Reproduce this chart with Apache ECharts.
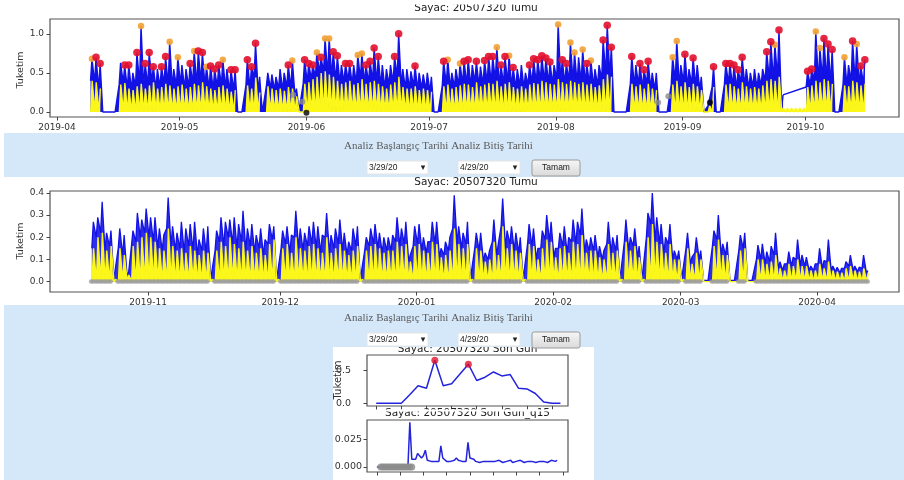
<!DOCTYPE html>
<html><head><meta charset="utf-8">
<script src="https://cdn.jsdelivr.net/npm/echarts@6.0.0/dist/echarts.min.js"></script>
<style>html,body{margin:0;padding:0;background:#fff;}#main{width:904px;height:480px;}</style>
</head><body><div id="main"></div>
<script>
const DAY = 86400000;

// ---------- top chart: daily peaks from 2019-04-09 ----------
const topStart = '2019-04-09';
const topTicks = ['2019-04','2019-05','2019-06','2019-07','2019-08','2019-09','2019-10'];
const topYTicks = [0, 0.5, 1.0];
const topYLabels = ['0.0','0.5','1.0'];
const topBlue = [
 0.68,0.70,0.62,0,0,0,0,0.63,0.60,0.60,0.50,0.76,1.10,0.62,0.76,0.58,0.55,0.58,0.71,0.90,0.55,0.70,
 0.60,0.55,0.62,0.78,0.78,0.76,0.58,0.59,0.55,0.60,0.67,0.55,0.54,0.54,0,0,0.67,0.58,0.88,0.45,0,0.50,0.48,0.45,0.55,0.50,0.60,0.66,0.30,0.02,0.67,
 0.62,0.60,0.76,0.70,0.94,0.94,0.77,0.72,0.60,0.62,0.62,0.60,0.73,0.75,0.60,0.65,0.82,0.71,0.60,0.55,0.60,0.71,1.00,0.55,0.55,0.52,0.59,0.50,0.48,0.50,
 0.45,0,0,0.65,0.67,0.50,0.55,0.62,0.65,0.67,0.60,0.65,0.58,0.66,0.71,0.71,0.83,0.60,0.71,0.72,0.57,0.55,0.60,0.50,0.60,0.68,0.67,0.72,0.69,0.64,0.60,
 1.12,0.67,0.62,0.89,0.76,0.70,0.80,0.62,0.66,0.55,0.60,0.92,1.11,0.83,0,0,0,0,0.71,0.60,0.62,0.54,0.65,0.50,0.50,0,0,0,0.70,0.91,0.60,
 0.74,0.55,0.69,0.60,0.45,0,0.10,0.58,0,0,0.62,0.62,0.60,0.54,0.70,0.55,0.50,0.55,0.50,0.55,0.77,0.90,0.86,1.05,0.22,null,null,null,null,null,
 0.52,0.55,1.03,0.82,0.94,0.87,0.80,0,0,0.70,0.60,0.91,0.87,0.59,0.67
];
const topYellow = [
 0.40,0.38,0.30,null,null,null,null,0.35,0.37,0.30,0.28,0.33,0.36,0.30,0.34,0.38,0.30,0.32,0.36,0.34,0.30,0.33,
 0.35,0.30,0.32,0.36,0.34,0.38,0.33,0.30,0.28,0.32,0.34,0.30,0.26,0.28,null,null,0.34,0.30,0.44,0.25,null,0.33,0.30,0.28,0.30,0.27,0.32,0.30,0.20,0.02,0.36,
 0.38,0.42,0.45,0.50,0.52,0.48,0.45,0.40,0.36,0.38,0.40,0.35,0.37,0.42,0.36,0.38,0.40,0.36,0.33,0.30,0.35,0.38,0.45,0.32,0.30,0.30,0.33,0.28,0.30,0.28,
 0.26,null,null,0.33,0.35,0.30,0.32,0.34,0.36,0.35,0.32,0.38,0.33,0.35,0.37,0.36,0.40,0.33,0.36,0.38,0.32,0.30,0.33,0.30,0.35,0.37,0.36,0.40,0.38,0.36,0.35,
 0.42,0.38,0.36,0.40,0.38,0.36,0.38,0.35,0.36,0.32,0.34,0.42,0.48,0.45,null,null,null,null,0.36,0.33,0.35,0.30,0.36,0.30,0.28,null,null,null,0.35,0.40,0.33,
 0.38,0.32,0.36,0.33,0.28,0.02,0.08,0.32,null,null,0.35,0.36,0.33,0.30,0.38,0.33,0.30,0.32,0.30,0.34,0.40,0.42,0.40,0.45,0.05,0.05,0.05,0.05,0.05,0.05,
 0.32,0.34,0.40,0.38,0.42,0.40,0.36,null,null,0.34,0.33,0.40,0.38,0.34,0.36
];
// marker per day: r = red, o = orange, . = none
const topMarks = [
 'orr....' + '.rr.rorrr.rro.o',
 '..rorrorrro.rr' + '..' + 'rrr.' + '.' + '.....ro.' + '.' + 'r',
 'rroroorr' + '.rr.' + 'oorrrr' + '...' + 'rr' + '...' + 'r' + '...',
 '...' + 'ro' + '..' + 'orr' + '.' + 'r' + '.' + 'rrr' + 'o' + 'rr' + 'o' + 'r' + '...' + 'rrrrrr' + '.',
 'orroo.oro..rrr' + '....' + 'r.rrr..' + '...' + 'oo.',
 'r.r....r..' + 'rrrrr.....rror' + '......',
 'rroorrr' + '..' + 'o.rorr'
].join('');
const topGrayTimes = ['2019-05-28T18:00','2019-05-31T00:00','2019-08-26T00:00','2019-08-28T12:00'];
const topGrayVals = [0.22, 0.13, 0.12, 0.20];
const topBlackTimes = ['2019-06-01T00:00','2019-09-07T16:00'];
const topBlackVals = [-0.01, 0.12];

// ---------- middle chart: daily peaks from 2019-10-19 ----------
const midStart = '2019-10-19';
const midTicks = ['2019-11','2019-12','2020-01','2020-02','2020-03','2020-04'];
const midYTicks = [0, 0.1, 0.2, 0.3, 0.4];
const midYLabels = ['0.0','0.1','0.2','0.3','0.4'];
const midBlue = [
 0.27,0.29,0.36,0.22,0.23,0.01,0.24,0.21,0.04,0.23,0.31,0.28,0.33,
 0.29,0.29,0.24,0.21,0.38,0.25,0.22,0.27,0.24,0.26,0.27,0.19,0.24,0.25,0.01,0.23,0.29,0.27,0.28,0.29,0.26,0.32,0.24,0.26,0.21,0.24,0.19,0.26,0.25,0.01,
 0.23,0.25,0.21,0.32,0.24,0.22,0.25,0.27,0.25,0.21,0.31,0.21,0.24,0.28,0.22,0.18,0.24,0.25,0.01,0.20,0.24,0.26,0.22,0.20,0.20,0.21,0.29,0.24,0.27,0.12,0.25,
 0.26,0.20,0.18,0.27,0.27,0.15,0.18,0.20,0.39,0.25,0.22,0.27,0.01,0.22,0.22,0.13,0.14,0.28,0.17,0.375,0.23,0.25,0.22,0.20,0.01,0.26,0.24,0.15,0.23,0.30,0.27,
 0.15,0.22,0.25,0.20,0.28,0.27,0.33,0.19,0.20,0.21,0.16,0.14,0.27,0.20,0.21,0.01,0.28,0.20,0.24,0.16,0.01,0.31,0.40,0.29,0.26,0.20,0.26,0.14,0.14,
 0.01,0.22,0.11,0.20,0.14,0.005,0.005,0.23,0.30,0.17,0.18,0.005,0.005,0.21,0.22,0.005,0.005,0.165,0.17,0.135,0.16,0.22,0.09,0.08,0.135,0.11,0.19,0.12,0.11,0.07,0.08,
 0.15,0.095,0.19,0.07,0.065,0.06,0.09,0.12,0.07,0.065,0.12,0.05
];
const midYellow = [
 0.15,0.20,0.22,0.14,0.16,0.01,0.15,0.12,0.03,0.16,0.18,0.20,0.22,
 0.20,0.18,0.15,0.14,0.24,0.16,0.14,0.15,0.13,0.16,0.14,0.12,0.14,0.13,0.01,0.14,0.18,0.16,0.20,0.17,0.15,0.18,0.14,0.16,0.13,0.15,0.12,0.17,0.19,0.01,
 0.15,0.17,0.13,0.20,0.15,0.14,0.16,0.17,0.15,0.13,0.20,0.13,0.15,0.17,0.14,0.12,0.14,0.16,0.01,0.14,0.16,0.17,0.15,0.13,0.14,0.14,0.18,0.16,0.17,0.09,0.16,
 0.17,0.14,0.13,0.18,0.17,0.11,0.12,0.14,0.24,0.17,0.15,0.17,0.01,0.15,0.14,0.09,0.10,0.18,0.12,0.25,0.15,0.17,0.14,0.13,0.01,0.17,0.16,0.10,0.15,0.19,0.18,
 0.11,0.15,0.16,0.13,0.18,0.17,0.21,0.13,0.14,0.14,0.11,0.10,0.17,0.13,0.14,0.01,0.18,0.14,0.16,0.11,0.01,0.20,0.26,0.18,0.17,0.13,0.17,0.10,0.10,
 0.01,0.15,0.08,0.13,0.10,0.005,0.005,0.16,0.19,0.12,0.12,0.005,0.005,0.14,0.15,0.005,0.005,0.10,0.10,0.08,0.09,0.12,0.06,0.05,0.08,0.07,0.10,0.07,0.07,0.05,0.05,
 0.08,0.06,0.09,0.05,0.045,0.04,0.06,0.07,0.05,0.045,0.06,0.04
];

// ---------- small chart 1: hourly, last day ----------
const s1Vals = [0,0,0,0,0.13,0.27,0.23,0.66,0.27,0.30,0.45,0.60,0.35,0.40,0.48,0.42,0.44,0.23,0.22,0.15,0.02,0,0];
const s1RedIdx = [7, 11];
const s1XTicks = [0,3,6,9,12,15,18,21];
const s1YTicks = [0, 0.5];
const s1YLabels = ['0.0','0.5'];

// ---------- small chart 2: 15-min, last day ----------
const s2Vals = [
 0,0,0,0,0,0,0,0,0,0,0,0,0,0,0,0,0,
 0.040,0.007,0.007,0.007,0.012,0.012,0.008,0.010,0.015,0.006,0.005,0.005,0.006,0.005,0.005,0.005,0.019,0.008,0.007,0.005,0.005,0.005,0.004,0.006,0.008,0.006,0.005,0.005,0.005,0.005,0.022,0.008,0.008,0.007,0.005,
 0.005,0.004,0.005,0.005,0.004,0.005,0.006,0.005,0.004,0.005,0.005,0.006,0.005,0.004,0.005,0.005,0.005,0.006,0.004,0.005,
 0.005,0.005,0.006,0.005,0.004,0.005,0.005,0.006,0.005,0.005,0.004,0.005,0.005,0.006,0.005,0.005,0.004,0.005,0.006,0.005,0.005,0.006
];
const s2GrayIdx = [2,3,4,5,6,7,8,9,10,11,12,13,14,15,16,17,18];
const s2XTicks = [0,12,24,36,48,60,72,84,96];
const s2YTicks = [0, 0.025];
const s2YLabels = ['0.000','0.025'];

// ---------- texts ----------
const topTitle = 'Sayac: 20507320 Tumu';
const midTitle = 'Sayac: 20507320 Tumu';
const s1Title = 'Sayac: 20507320 Son Gun';
const s2Title = 'Sayac: 20507320 Son Gun_q15';
const yName = 'Tuketim';
const formText = 'Analiz Başlangıç Tarihi Analiz Bitiş Tarihi';
const startDateText = '3/29/20';
const endDateText = '4/29/20';
const buttonText = 'Tamam';

// ---------- helpers ----------
const monthTs = s => Date.parse(s + '-01T00:00:00Z');
const dayTs = s => Date.parse(s + 'T00:00:00Z');
const minTs = s => Date.parse(s + ':00Z');
const OFF_LOW = 0.2, OFF_PEAK = 0.55;

// each day: a trough (at the day's lower level) and the day's peak; null = no data
function spikes(start, vals, lows, offLow, offPeak, breakOnNull) {
  const t0 = dayTs(start), out = [];
  vals.forEach((v, i) => {
    const d = t0 + i * DAY;
    if (v == null) { if (breakOnNull) out.push([d + offLow * DAY, null]); return; }
    const lo = lows && lows[i] != null ? Math.min(lows[i], v) : 0;
    out.push([d + offLow * DAY, lo], [d + offPeak * DAY, v]);
  });
  return out;
}
// straight connectors across days without data (drawn as a plain line)
function gapLinks(start, vals, lows) {
  const t0 = dayTs(start), out = [];
  for (let i = 1; i < vals.length; i++) {
    if (vals[i] == null && vals[i - 1] != null) {
      let j = i; while (j < vals.length && vals[j] == null) j++;
      if (j < vals.length) {
        if (out.length) out.push([t0 + i * DAY, null]);
        const lo = lows && lows[j] != null ? Math.min(lows[j], vals[j]) : 0;
        out.push([t0 + (i - 1) * DAY + OFF_PEAK * DAY, vals[i - 1]], [t0 + j * DAY + OFF_LOW * DAY, lo]);
      }
    }
  }
  return out;
}
function markPts(start, vals, marks, ch) {
  const t0 = dayTs(start), out = [];
  vals.forEach((v, i) => {
    if (v == null || marks[i] !== ch) return;
    out.push([t0 + i * DAY + OFF_PEAK * DAY, v]);
  });
  return out;
}
function baseDots(start, vals) {
  const t0 = dayTs(start), out = [];
  vals.forEach((v, i) => {
    if (v == null || v <= 0.02) return;
    const d = t0 + i * DAY;
    out.push([d + 0.05 * DAY, 0], [d + 0.5 * DAY, 0]);
  });
  return out;
}
function nearestLabel(v, vals, labels) {
  let bi = 0, bd = Infinity;
  vals.forEach((x, i) => { const dd = Math.abs(x - v); if (dd < bd) { bd = dd; bi = i; } });
  return labels[bi];
}
const tickLine = {color: '#444', width: 1};
const labFont = {color: '#333', fontFamily: 'DejaVu Sans', fontSize: 9};
const noLine = {show: false, onZero: false};

function dateX(gi, minT, maxT, ticks) {
  const vals = ticks.map(monthTs);
  return {type: 'value', gridIndex: gi, min: minT, max: maxT,
    axisLine: noLine, splitLine: {show: false},
    axisTick: {show: true, customValues: vals, length: 3.5, lineStyle: tickLine},
    axisLabel: Object.assign({customValues: vals, margin: 6, formatter: v => nearestLabel(v, vals, ticks)}, labFont)};
}
function valX(gi, min, max, ticks) {
  return {type: 'value', gridIndex: gi, min, max,
    axisLine: noLine, splitLine: {show: false},
    axisTick: {show: true, customValues: ticks, length: 3.5, lineStyle: tickLine},
    axisLabel: {show: false}};
}
function valY(gi, min, max, ticks, labels, margin, fs) {
  return {type: 'value', gridIndex: gi, min, max,
    axisLine: noLine, splitLine: {show: false},
    axisTick: {show: true, customValues: ticks, length: 3.5, lineStyle: tickLine},
    axisLabel: Object.assign({}, labFont, {fontSize: fs, customValues: ticks, margin, formatter: v => nearestLabel(v, ticks, labels)})};
}

const BLUE = '#1212e6', YELLOW = '#fbf71a', RED = '#e3102c', ORANGE = '#f3a233', GRAY = '#8c8c8c';
const band = '#d5e8fa';

const topMin = monthTs('2019-04') - 1.71 * DAY, topMax = monthTs('2019-04') + 205.9 * DAY;
const midMin = monthTs('2019-11') - 22.3 * DAY, midMax = monthTs('2019-11') + 170.6 * DAY;

const gridBase = {show: true, borderColor: '#555', borderWidth: 1.2, backgroundColor: 'transparent'};

function formRow(yOff) {
  return [
    {type: 'text', x: 438.5, y: 146 + yOff, z: 8, silent: true,
      style: {text: formText, font: '11px "Liberation Serif"', fill: '#5a5a5a', textAlign: 'center', textVerticalAlign: 'middle'}},
    {type: 'rect', shape: {x: 367, y: 161 + yOff, width: 61, height: 13}, z: 8, silent: true, style: {fill: '#fff', stroke: '#e4e4e4'}},
    {type: 'text', x: 369, y: 167.5 + yOff, z: 9, silent: true,
      style: {text: startDateText, font: '8.5px "Liberation Sans"', fill: '#222', textAlign: 'left', textVerticalAlign: 'middle'}},
    {type: 'text', x: 423, y: 167.5 + yOff, z: 9, silent: true,
      style: {text: '▾', font: '9px "DejaVu Sans"', fill: '#222', textAlign: 'center', textVerticalAlign: 'middle'}},
    {type: 'rect', shape: {x: 458, y: 161 + yOff, width: 62, height: 13}, z: 8, silent: true, style: {fill: '#fff', stroke: '#e4e4e4'}},
    {type: 'text', x: 460, y: 167.5 + yOff, z: 9, silent: true,
      style: {text: endDateText, font: '8.5px "Liberation Sans"', fill: '#222', textAlign: 'left', textVerticalAlign: 'middle'}},
    {type: 'text', x: 515, y: 167.5 + yOff, z: 9, silent: true,
      style: {text: '▾', font: '9px "DejaVu Sans"', fill: '#222', textAlign: 'center', textVerticalAlign: 'middle'}},
    {type: 'rect', shape: {x: 532, y: 160 + yOff, width: 48, height: 16, r: 2}, z: 8, silent: true,
      style: {fill: {type: 'linear', x: 0, y: 0, x2: 0, y2: 1, colorStops: [{offset: 0, color: '#f7f7f7'}, {offset: 1, color: '#d9d9d9'}]}, stroke: '#9a9a9a', lineWidth: 1}},
    {type: 'text', x: 556, y: 168 + yOff, z: 9, silent: true,
      style: {text: buttonText, font: '8.5px "Liberation Sans"', fill: '#222', textAlign: 'center', textVerticalAlign: 'middle'}}
  ];
}

const graphics = [
  {type: 'rect', shape: {x: 4, y: 133, width: 900, height: 44}, z: -5, silent: true, style: {fill: band}},
  {type: 'rect', shape: {x: 4, y: 305, width: 900, height: 175}, z: -5, silent: true, style: {fill: band}},
  {type: 'rect', shape: {x: 333, y: 347, width: 261, height: 133}, z: -4, silent: true, style: {fill: '#fff'}},
  {type: 'text', x: 476, y: 8, z: 5, silent: true,
    style: {text: topTitle, font: '10.5px "DejaVu Sans"', fill: '#222', textAlign: 'center', textVerticalAlign: 'middle'}},
  {type: 'rect', shape: {x: 380, y: 0, width: 200, height: 4.5}, z: 6, silent: true, style: {fill: '#fff'}},
  {type: 'text', x: 476, y: 182.5, z: 5, silent: true,
    style: {text: midTitle, font: '10.5px "DejaVu Sans"', fill: '#222', textAlign: 'center', textVerticalAlign: 'middle'}},
  {type: 'text', x: 21, y: 70, rotation: Math.PI / 2, z: 5, silent: true,
    style: {text: yName, font: '9.5px "DejaVu Sans"', fill: '#333', textAlign: 'center', textVerticalAlign: 'middle'}},
  {type: 'text', x: 21, y: 241, rotation: Math.PI / 2, z: 5, silent: true,
    style: {text: yName, font: '9.5px "DejaVu Sans"', fill: '#333', textAlign: 'center', textVerticalAlign: 'middle'}},
  {type: 'text', x: 467.5, y: 349, z: 5, silent: true,
    style: {text: s1Title, font: '10.5px "DejaVu Sans"', fill: '#222', textAlign: 'center', textVerticalAlign: 'middle'}},
  {type: 'rect', shape: {x: 333, y: 336, width: 261, height: 11}, z: 6, silent: true, style: {fill: band}},
  {type: 'text', x: 338, y: 380, rotation: Math.PI / 2, z: 5, silent: true,
    style: {text: yName, font: '10px "DejaVu Sans"', fill: '#333', textAlign: 'center', textVerticalAlign: 'middle'}},
  {type: 'text', x: 467.5, y: 413.5, z: 5, silent: true,
    style: {text: s2Title, font: '10.5px "DejaVu Sans"', fill: '#222', textAlign: 'center', textVerticalAlign: 'middle'}},
  {type: 'rect', shape: {x: 380, y: 409.6, width: 180, height: 2}, z: 6, silent: true, style: {fill: '#fff'}}
].concat(formRow(0), formRow(172));

const option = {
  animation: false,
  backgroundColor: '#fff',
  graphic: graphics,
  grid: [
    Object.assign({left: 50, top: 19, width: 849, height: 98}, gridBase),
    Object.assign({left: 50, top: 191, width: 849, height: 101}, gridBase),
    Object.assign({left: 367, top: 355, width: 201, height: 51}, gridBase),
    Object.assign({left: 367, top: 420, width: 201, height: 52}, gridBase)
  ],
  xAxis: [
    dateX(0, topMin, topMax, topTicks),
    dateX(1, midMin, midMax, midTicks),
    valX(2, -1.1, 22.9, s1XTicks),
    valX(3, -5.1, 98.6, s2XTicks)
  ],
  yAxis: [
    valY(0, -0.064, 1.19, topYTicks, topYLabels, 6, 9),
    valY(1, -0.047, 0.409, midYTicks, midYLabels, 6, 9),
    valY(2, -0.041, 0.74, s1YTicks, s1YLabels, 16, 9.5),
    valY(3, -0.0045, 0.0421, s2YTicks, s2YLabels, 5, 9.5)
  ],
  series: [
    {type: 'line', xAxisIndex: 0, yAxisIndex: 0, data: spikes(topStart, topBlue, topYellow, OFF_LOW, OFF_PEAK, true), showSymbol: false, connectNulls: false,
      lineStyle: {color: BLUE, width: 1.4}, areaStyle: {color: BLUE, opacity: 1}},
    {type: 'line', xAxisIndex: 0, yAxisIndex: 0, data: gapLinks(topStart, topBlue, topYellow), showSymbol: false, connectNulls: false,
      lineStyle: {color: BLUE, width: 1.4}},
    {type: 'line', xAxisIndex: 0, yAxisIndex: 0, data: spikes(topStart, topYellow, null, 0.25, 0.6, true), showSymbol: false, connectNulls: false,
      lineStyle: {color: YELLOW, width: 1.4}, areaStyle: {color: YELLOW, opacity: 1}},
    {type: 'scatter', z: 3, xAxisIndex: 0, yAxisIndex: 0, data: markPts(topStart, topBlue, topMarks, 'o'), symbolSize: 6.5, itemStyle: {color: ORANGE, opacity: 0.9}},
    {type: 'scatter', z: 3, xAxisIndex: 0, yAxisIndex: 0, data: markPts(topStart, topBlue, topMarks, 'r'), symbolSize: 7.5, itemStyle: {color: RED, opacity: 0.9}},
    {type: 'scatter', z: 3, xAxisIndex: 0, yAxisIndex: 0, data: topGrayTimes.map((t, i) => [minTs(t), topGrayVals[i]]), symbolSize: 6, itemStyle: {color: GRAY}},
    {type: 'scatter', z: 3, xAxisIndex: 0, yAxisIndex: 0, data: topBlackTimes.map((t, i) => [minTs(t), topBlackVals[i]]), symbolSize: 6, itemStyle: {color: '#000'}},
    {type: 'line', xAxisIndex: 1, yAxisIndex: 1, data: spikes(midStart, midBlue, midYellow, OFF_LOW, OFF_PEAK, false), showSymbol: false,
      lineStyle: {color: BLUE, width: 1.3}, areaStyle: {color: BLUE, opacity: 0.88}},
    {type: 'line', xAxisIndex: 1, yAxisIndex: 1, data: spikes(midStart, midYellow, null, 0.25, 0.6, true), showSymbol: false,
      lineStyle: {color: YELLOW, width: 1.4}, areaStyle: {color: YELLOW, opacity: 1}},
    {type: 'scatter', z: 3, xAxisIndex: 1, yAxisIndex: 1, data: baseDots(midStart, midBlue), symbolSize: 4.5, itemStyle: {color: '#9c9c9c'}},
    {type: 'line', xAxisIndex: 2, yAxisIndex: 2, data: s1Vals.map((v, i) => [i, v]), showSymbol: false, lineStyle: {color: '#2424dd', width: 1.5}},
    {type: 'scatter', z: 3, xAxisIndex: 2, yAxisIndex: 2, data: s1RedIdx.map(i => [i, s1Vals[i]]), symbolSize: 7, itemStyle: {color: RED}},
    {type: 'scatter', z: 3, xAxisIndex: 3, yAxisIndex: 3, data: s2GrayIdx.map(i => [i, 0]), symbolSize: 7, itemStyle: {color: GRAY}},
    {type: 'line', xAxisIndex: 3, yAxisIndex: 3, data: s2Vals.map((v, i) => [i, v]), showSymbol: false, lineStyle: {color: '#2424dd', width: 1.5}}
  ]
};

const chart = echarts.init(document.getElementById('main'), null, {renderer: 'canvas'});
chart.setOption(option);
</script>
</body></html>
